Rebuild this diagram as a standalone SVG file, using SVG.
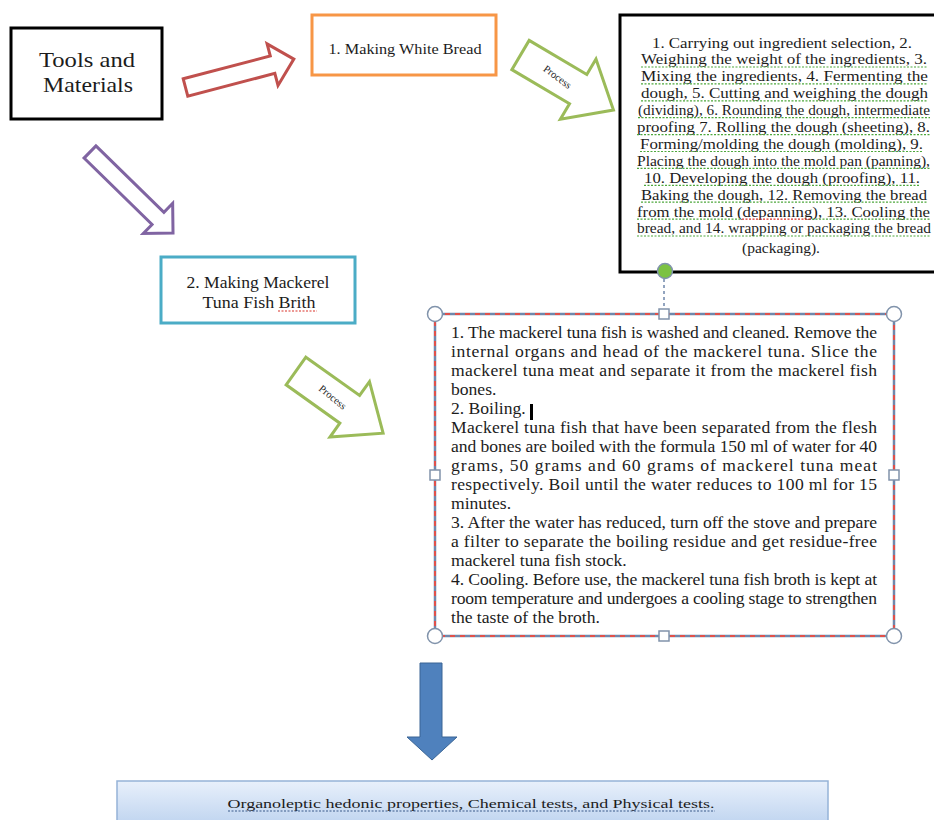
<svg xmlns="http://www.w3.org/2000/svg" width="934" height="820" viewBox="0 0 934 820">
<defs>
<linearGradient id="gBlue" x1="0" y1="0" x2="0" y2="1">
<stop offset="0" stop-color="#e8f0fb"/>
<stop offset="1" stop-color="#b9d0ee"/>
</linearGradient>
</defs>
<style>
text{font-family:"Liberation Serif","Times New Roman",serif;fill:#1c1c1c}
.lbl{text-anchor:middle}
.blk{fill:#fff;stroke:#000;stroke-width:3}
.sqg{stroke:#4ea83c;stroke-width:1.2;stroke-dasharray:2 1.5;fill:none}
.sqr{stroke:#d9322a;stroke-width:1.2;stroke-dasharray:2 1.5;fill:none}
.hc{fill:#fff;stroke:#8193ab;stroke-width:1.5}
.ba{fill:#fff;stroke-width:3;stroke-linejoin:miter}
.proc{font-size:10.5px;text-anchor:middle}
.mt{font-size:16px}
.bt{font-size:14px}
</style>
<rect width="934" height="820" fill="#fff"/>

<g id="connectors">
<path class="ba" stroke="#c0504d" transform="translate(185.5 87.5) rotate(-14.7)" d="M0,-9 L90,-9 L90,-21.5 L112,0 L90,21.5 L90,9 L0,9 Z"/>
<path class="ba" stroke="#8064a2" transform="translate(90 152) rotate(44.3)" d="M0,-8.5 L95,-8.5 L95,-21 L116,0 L95,21 L95,8.5 L0,8.5 Z"/>
<g transform="translate(520.5 55) rotate(30.6)">
<path class="ba" stroke="#9bbb59" d="M0,-17 L67,-17 L67,-35 L108,0 L67,35 L67,17 L0,17 Z"/>
<text class="proc" x="43" y="3.5" transform="rotate(6 43 0)">Process</text>
</g>
<g transform="translate(296 371) rotate(35.5)">
<path class="ba" stroke="#9bbb59" d="M0,-17 L66,-17 L66,-34 L107,0 L66,34 L66,17 L0,17 Z"/>
<text class="proc" x="45" y="3.5" transform="rotate(4 45 0)">Process</text>
</g>
<path fill="#4f81bd" stroke="#3a6595" stroke-width="1" d="M420,663 L442,663 L442,737 L457,737 L432,760 L407,737 L420,737 Z"/>
</g>

<g id="node-tools">
<rect class="blk" x="11" y="28" width="151" height="91"/>
<text class="lbl" x="87" y="67" font-size="21" textLength="96" lengthAdjust="spacingAndGlyphs">Tools and</text>
<text class="lbl" x="88" y="92" font-size="21" textLength="90" lengthAdjust="spacingAndGlyphs">Materials</text>
</g>

<g id="node-bread">
<rect x="312" y="15" width="184" height="60" fill="#fff" stroke="#f79646" stroke-width="3"/>
<text class="lbl" x="405" y="54" font-size="14" textLength="153" lengthAdjust="spacingAndGlyphs">1. Making White Bread</text>
</g>

<g id="node-bread-process">
<rect class="blk" x="620" y="15" width="330" height="257"/>
<g class="bt">
<text x="652" y="47.5" textLength="260" lengthAdjust="spacingAndGlyphs">1. Carrying out ingredient selection, 2.</text>
<text x="641" y="64.4" textLength="286" lengthAdjust="spacingAndGlyphs">Weighing the weight of the ingredients, 3.</text>
<text x="641" y="81.3" textLength="287" lengthAdjust="spacingAndGlyphs">Mixing the ingredients, 4. Fermenting the</text>
<text x="641" y="98.2" textLength="287" lengthAdjust="spacingAndGlyphs">dough, 5. Cutting and weighing the dough</text>
<text x="638" y="115.1" textLength="292" lengthAdjust="spacingAndGlyphs">(dividing), 6. Rounding the dough, intermediate</text>
<text x="637" y="132" textLength="293" lengthAdjust="spacingAndGlyphs">proofing 7. Rolling the dough (sheeting), 8.</text>
<text x="640" y="148.9" textLength="283" lengthAdjust="spacingAndGlyphs">Forming/molding the dough (molding), 9.</text>
<text x="637" y="165.8" textLength="293" lengthAdjust="spacingAndGlyphs">Placing the dough into the mold pan (panning),</text>
<text x="644" y="182.7" textLength="276" lengthAdjust="spacingAndGlyphs">10. Developing the dough (proofing), 11.</text>
<text x="641" y="199.6" textLength="286" lengthAdjust="spacingAndGlyphs">Baking the dough, 12. Removing the bread</text>
<text x="637" y="216.5" textLength="293" lengthAdjust="spacingAndGlyphs">from the mold (depanning), 13. Cooling the</text>
<text x="637" y="233.4" textLength="294" lengthAdjust="spacingAndGlyphs">bread, and 14. wrapping or packaging the bread</text>
<text x="742" y="252.5" textLength="78" lengthAdjust="spacingAndGlyphs">(packaging).</text>
</g>
<g id="squiggles-1">
<path class="sqg" d="M641,67 H927 M641,83.9 H928 M641,100.8 H928 M638,117.7 H930 M637,134.6 H930 M640,151.5 H923 M637,168.4 H930 M644,185.3 H920 M641,202.2 H927 M637,219.1 H742 M812,219.1 H930 M637,236 H931"/>
<path class="sqr" d="M742,219.1 H812"/>
</g>
</g>

<g id="node-fish">
<rect x="161" y="257" width="194" height="66" fill="#fff" stroke="#4bacc6" stroke-width="3"/>
<text class="lbl" x="258" y="288" font-size="16" textLength="143" lengthAdjust="spacingAndGlyphs">2. Making Mackerel</text>
<text class="lbl" x="259" y="308" font-size="16" textLength="113" lengthAdjust="spacingAndGlyphs">Tuna Fish Brith</text>
<path class="sqr" d="M278,311 H317"/>
</g>

<g id="node-fish-process">
<rect x="435" y="314" width="459" height="322" fill="#fff" stroke="#6f87ab" stroke-width="2.5"/>
<rect x="435" y="314" width="459" height="322" fill="none" stroke="#e0504a" stroke-width="2" stroke-dasharray="5 5"/>
<g transform="translate(451 0) scale(1.1 1)" class="mt">
<text x="0" y="338" textLength="387.3" lengthAdjust="spacing">1. The mackerel tuna fish is washed and cleaned. Remove the</text>
<text x="0" y="357" textLength="387.3" lengthAdjust="spacing">internal organs and head of the mackerel tuna. Slice the</text>
<text x="0" y="376" textLength="387.3" lengthAdjust="spacing">mackerel tuna meat and separate it from the mackerel fish</text>
<text x="0" y="395">bones.</text>
<text x="0" y="414">2. Boiling.</text>
<text x="0" y="433" textLength="387.3" lengthAdjust="spacing">Mackerel tuna fish that have been separated from the flesh</text>
<text x="0" y="452" textLength="387.3" lengthAdjust="spacing">and bones are boiled with the formula 150 ml of water for 40</text>
<text x="0" y="471" textLength="387.3" lengthAdjust="spacing">grams, 50 grams and 60 grams of mackerel tuna meat</text>
<text x="0" y="490" textLength="387.3" lengthAdjust="spacing">respectively. Boil until the water reduces to 100 ml for 15</text>
<text x="0" y="509">minutes.</text>
<text x="0" y="528" textLength="387.3" lengthAdjust="spacing">3. After the water has reduced, turn off the stove and prepare</text>
<text x="0" y="547" textLength="387.3" lengthAdjust="spacing">a filter to separate the boiling residue and get residue-free</text>
<text x="0" y="566">mackerel tuna fish stock.</text>
<text x="0" y="585" textLength="387.3" lengthAdjust="spacing">4. Cooling. Before use, the mackerel tuna fish broth is kept at</text>
<text x="0" y="604" textLength="387.3" lengthAdjust="spacing">room temperature and undergoes a cooling stage to strengthen</text>
<text x="0" y="623">the taste of the broth.</text>
</g>
<rect x="530" y="404" width="3" height="16" fill="#000"/>
<g id="handles">
<line x1="664" y1="279" x2="664" y2="309" stroke="#6f87ab" stroke-width="1.5" stroke-dasharray="3 3"/>
<circle cx="665" cy="271" r="7.5" fill="#7cc242" stroke="#8193ab" stroke-width="1.5"/>
<circle class="hc" cx="435" cy="314" r="7.5"/>
<circle class="hc" cx="894" cy="314" r="7.5"/>
<circle class="hc" cx="435" cy="636" r="7.5"/>
<circle class="hc" cx="894" cy="636" r="7.5"/>
<rect class="hc" x="659" y="309" width="10" height="10"/>
<rect class="hc" x="659" y="631" width="10" height="10"/>
<rect class="hc" x="430" y="470" width="10" height="10"/>
<rect class="hc" x="889" y="470" width="10" height="10"/>
</g>
</g>

<g id="node-results">
<rect x="117" y="781" width="711" height="50" fill="url(#gBlue)" stroke="#95b3d7" stroke-width="1.5"/>
<text class="lbl" x="471" y="808" font-size="13.5" textLength="487" lengthAdjust="spacingAndGlyphs">Organoleptic hedonic properties, Chemical tests, and Physical tests.</text>
<path d="M228,811 H715" stroke="#3a5a8a" stroke-width="1.1" stroke-dasharray="2 1.5" fill="none"/>
</g>
</svg>
